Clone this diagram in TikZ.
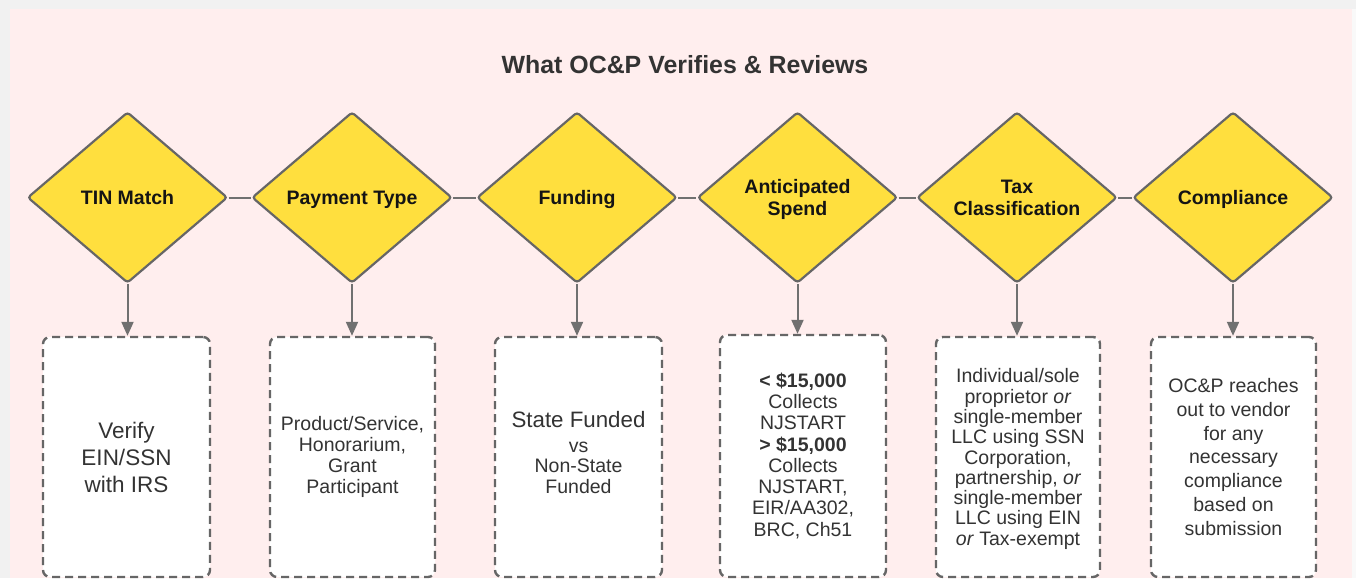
\documentclass[tikz,border=0pt]{standalone}
\usepackage{fontspec}
\setmainfont{Liberation Sans}
\usetikzlibrary{shapes.geometric,arrows.meta}
\definecolor{bgout}{HTML}{F1F1F1}
\definecolor{bgright}{HTML}{F9F9F9}
\definecolor{panel}{HTML}{FFEEEE}
\definecolor{dyellow}{HTML}{FFDF3E}
\definecolor{edge}{HTML}{666666}
\definecolor{linkc}{HTML}{707070}
\definecolor{txt}{HTML}{333333}
\begin{document}
\begin{tikzpicture}[x=1pt,y=-1pt,
  decision/.style={diamond, draw=edge, line width=2.2pt, fill=dyellow,
    minimum width=200pt, minimum height=171pt, inner sep=0pt, aspect=1.17,
    rounded corners=3pt, align=center, text depth=0pt,
    font=\bfseries\fontsize{19.5}{22}\selectfont, text=black!92},
  infobox/.style={rectangle, draw=edge, line width=2.4pt,
    dash pattern=on 8pt off 5pt, rounded corners=7pt, fill=white,
    minimum height=240pt, inner sep=0pt, align=center, text=txt,
    font=\fontsize{19.5}{21.3}\selectfont},
  link/.style={draw=linkc, line width=2pt},
  flow/.style={draw=linkc, line width=2pt, -{Triangle[width=12pt,length=14pt]}},
  titletext/.style={font=\bfseries\fontsize{24.9}{28}\selectfont, text=txt}
]
\useasboundingbox (0,0) rectangle (1356,578);
\fill[bgout] (0,0) rectangle (1356,578);
\fill[panel] (10,9) rectangle (1352,578);
\fill[bgright] (1352,9) rectangle (1356,578);

\node[titletext] (title) at (685,65) {What OC\&P Verifies \& Reviews};

\node[decision] (d1) at (127.5,197.5) {TIN Match};
\node[decision] (d2) at (352,197.5) {Payment Type};
\node[decision] (d3) at (577,197.5) {Funding};
\node[decision] (d4) at (797.5,197.5) {Anticipated\\Spend};
\node[decision] (d5) at (1017,197.5) {Tax\\Classification};
\node[decision] (d6) at (1233,197.5) {Compliance};

\draw[link] (d1.east) -- (d2.west);
\draw[link] (d2.east) -- (d3.west);
\draw[link] (d3.east) -- (d4.west);
\draw[link] (d4.east) -- (d5.west);
\draw[link] (d5.east) -- (d6.west);

\node[infobox, minimum width=167pt, font=\fontsize{22.5}{27}\selectfont] (b1) at (126.5,457)
  {Verify\\EIN/SSN\\with IRS};
\node[infobox, minimum width=165pt] (b2) at (352.5,457)
  {Product/Service,\\Honorarium,\\Grant\\Participant};
\node[infobox, minimum width=167pt, text depth=9pt, font=\fontsize{19.5}{20.5}\selectfont] (b3) at (578.5,457)
  {{\fontsize{22.3}{25}\selectfont State Funded}\\[4pt]vs\\Non-State\\Funded};
\node[infobox, minimum width=166pt, minimum height=242pt, text depth=3pt] (b4) at (803,456)
  {\textbf{< \$15,000}\\Collects\\NJSTART\\\textbf{> \$15,000}\\Collects\\NJSTART,\\EIR/AA302,\\BRC, Ch51};
\node[infobox, minimum width=164pt, text depth=-4pt, font=\fontsize{19.5}{20.3}\selectfont] (b5) at (1018,457)
  {Individual/sole\\proprietor \textit{or}\\single-member\\LLC using SSN\\Corporation,\\partnership, \textit{or}\\single-member\\LLC using EIN\\\textit{or} Tax-exempt};
\node[infobox, minimum width=165pt, font=\fontsize{19.5}{23.8}\selectfont] (b6) at (1233.5,457)
  {OC\&P reaches\\out to vendor\\for any\\necessary\\compliance\\based on\\submission};

\draw[flow] (d1.south) -- (d1.south |- b1.north);
\draw[flow] (d2.south) -- (d2.south |- b2.north);
\draw[flow] (d3.south) -- (d3.south |- b3.north);
\draw[flow] (d4.south) -- (d4.south |- b4.north);
\draw[flow] (d5.south) -- (d5.south |- b5.north);
\draw[flow] (d6.south) -- (d6.south |- b6.north);
\end{tikzpicture}
\end{document}
